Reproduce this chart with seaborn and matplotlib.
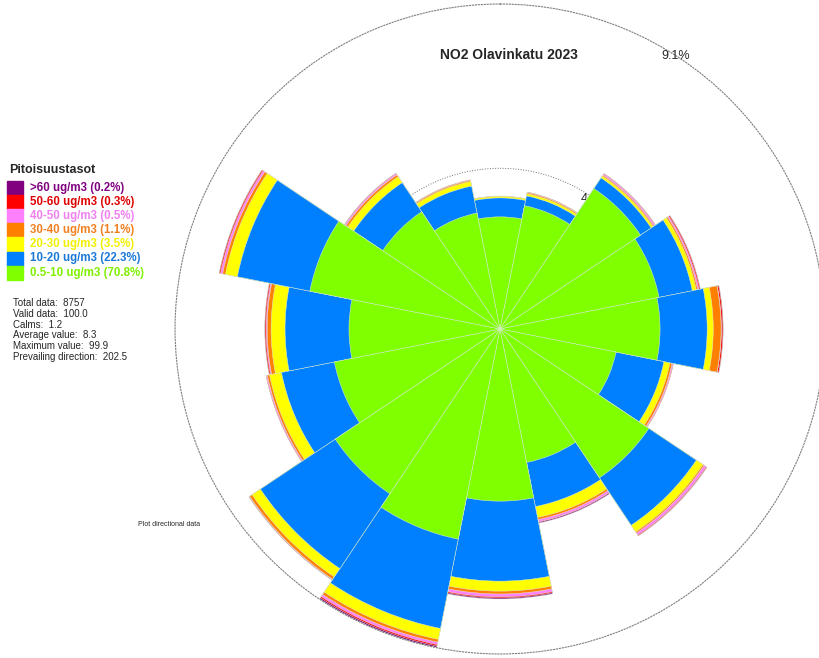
import numpy as np
import pandas as pd
import matplotlib
matplotlib.use('Agg')
import matplotlib.pyplot as plt
import seaborn as sns

sns.set_style('white')
plt.rcParams['font.family'] = ['Liberation Sans', 'DejaVu Sans']

# pollution rose, % of time per sector and concentration class
directions = ['N', 'NNE', 'NE', 'ENE', 'E', 'ESE', 'SE', 'SSE',
              'S', 'SSW', 'SW', 'WSW', 'W', 'WNW', 'NW', 'NNW']
green = [3.14, 3.52, 4.73, 4.54, 4.48, 3.31, 5.01, 3.81, 4.82, 6.00, 5.55, 4.73, 4.23, 5.43, 3.95, 3.31]
blue = [0.53, 0.28, 0.36, 0.95, 1.32, 1.37, 1.60, 1.26, 2.24, 2.55, 2.52, 1.51, 1.79, 2.07, 0.98, 0.77]
yellow = [0.04, 0.06, 0.06, 0.11, 0.17, 0.17, 0.22, 0.31, 0.28, 0.31, 0.28, 0.34, 0.39, 0.34, 0.20, 0.13]
orange = [0.01, 0.03, 0.03, 0.04, 0.22, 0.06, 0.04, 0.06, 0.08, 0.08, 0.08, 0.06, 0.11, 0.08, 0.06, 0.03]
pink = [0.00, 0.01, 0.04, 0.04, 0.01, 0.03, 0.07, 0.06, 0.08, 0.07, 0.01, 0.03, 0.03, 0.06, 0.04, 0.01]
red = [0.00, 0.01, 0.01, 0.03, 0.04, 0.01, 0.02, 0.01, 0.03, 0.04, 0.01, 0.01, 0.03, 0.03, 0.01, 0.01]
purple = [0.00, 0.00, 0.01, 0.01, 0.01, 0.00, 0.01, 0.03, 0.03, 0.04, 0.01, 0.00, 0.01, 0.01, 0.01, 0.00]

classes = ['0.5-10 ug/m3 (70.8%)', '10-20 ug/m3 (22.3%)', '20-30 ug/m3 (3.5%)',
           '30-40 ug/m3 (1.1%)', '40-50 ug/m3 (0.5%)', '50-60 ug/m3 (0.3%)', '>60 ug/m3 (0.2%)']
colors = ['#80FF00', '#0080FF', '#FFFF00', '#FF8000', '#FF80FF', '#FF0000', '#800080']
text_colors = ['#80F000', '#1A78D8', '#F0F000', '#F08020', '#F080F0', '#E00000', '#800080']

stats = ['Total data:  8757', 'Valid data:  100.0', 'Calms:  1.2',
         'Average value:  8.3', 'Maximum value:  99.9', 'Prevailing direction:  202.5']
rmax = 9.1
ring = 4.5

layers = np.array([green, blue, yellow, orange, pink, red, purple])
cum = np.cumsum(layers, axis=0)
theta = np.deg2rad(np.arange(len(directions)) * 22.5)

fig = plt.figure(figsize=(8.19, 6.58), dpi=100)
ax = fig.add_axes([0.2137, 0.0061, 0.7937, 0.9878], projection='polar')
ax.set_theta_zero_location('N')
ax.set_theta_direction(-1)

# inner ring + label, sits under the bars (only the "4" peeks out)
tt = np.linspace(0, 2 * np.pi, 400)
ax.plot(tt, np.full_like(tt, ring), color='#707070', lw=0.7, ls=':', zorder=0.5)
ax.text(np.deg2rad(36.0), ring, '4.5%', fontsize=9, ha='center', va='center', zorder=0.6)

# stacked bars drawn from the outside in, so each inner class covers the one above
for i in range(len(classes) - 1, -1, -1):
    df = pd.DataFrame({'theta': theta, 'pct': cum[i]})
    sns.barplot(data=df, x='theta', y='pct', native_scale=True, orient='x', width=1,
                color=colors[i], saturation=1, errorbar=None,
                edgecolor='#dcecd4', linewidth=0.35, ax=ax, zorder=2)

ax.set_ylim(0, rmax)
ax.set_xticks([])
ax.set_yticks([])
ax.set_xlabel('')
ax.set_ylabel('')
ax.grid(False)
ax.spines['polar'].set_linestyle(':')
ax.spines['polar'].set_color('#808080')
ax.spines['polar'].set_linewidth(0.8)
ax.text(np.deg2rad(32.7), rmax, '9.1%', fontsize=9, ha='center', va='center', zorder=3)

fig.text(0.622, 0.916, 'NO2 Olavinkatu 2023', fontsize=10, fontweight='bold', ha='center', va='center')

# legend block on the left
fig.text(0.011, 1 - 170 / 658, 'Pitoisuustasot', fontsize=9, fontweight='bold', va='center')
for k in range(len(classes)):
    j = len(classes) - 1 - k
    y = 181 + k * 14.1
    fig.patches.append(plt.Rectangle((7 / 819, 1 - (y + 14.1) / 658), 15.5 / 819, 14.1 / 658,
                                     transform=fig.transFigure, color=colors[j]))
    fig.text(30 / 819, 1 - (y + 7) / 658, classes[j], fontsize=8.3, fontweight='bold',
             color=text_colors[j], va='center')
for k, s in enumerate(stats):
    fig.text(13 / 819, 1 - (303 + k * 10.8) / 658, s, fontsize=7, va='center')

fig.text(138 / 819, 1 - 524 / 658, 'Plot directional data', fontsize=5, va='center')

fig.savefig('out.png', dpi=100)
